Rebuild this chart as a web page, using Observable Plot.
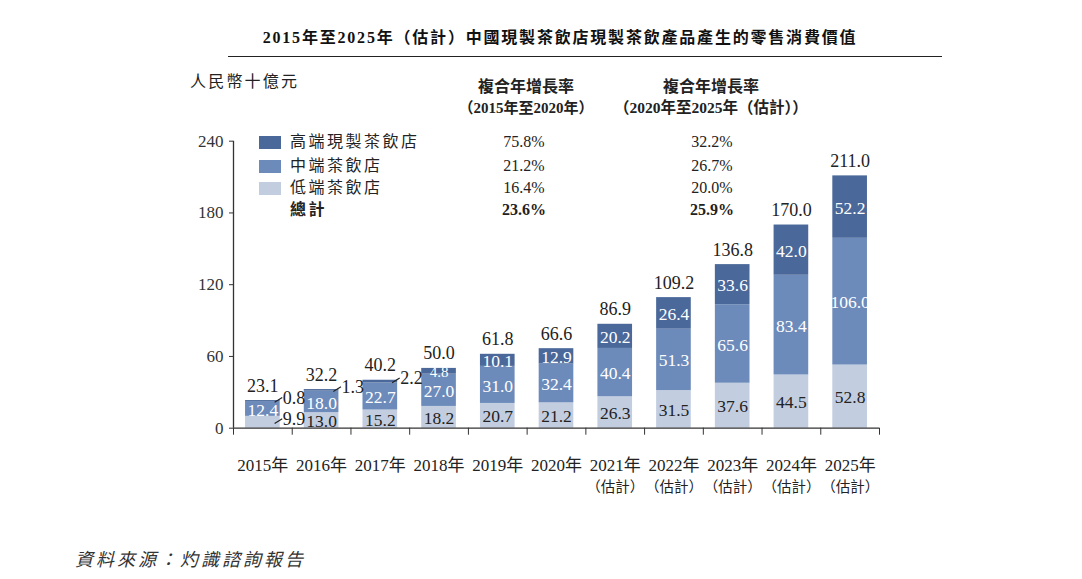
<!DOCTYPE html>
<html>
<head>
<meta charset="utf-8">
<script src="https://cdn.jsdelivr.net/npm/d3@7"></script>
<script src="https://cdn.jsdelivr.net/npm/@observablehq/plot@0.6"></script>
<style>
  html, body { margin: 0; padding: 0; background: #fff; overflow: hidden; }
  #page { position: relative; width: 1082px; height: 579px; }
  #chart { position: absolute; left: 0; top: 0; }
  .ov { position: absolute; white-space: nowrap; font-family: "Liberation Serif", "Noto Sans CJK TC", serif; color: #222; line-height: 20px; }
</style>
</head>
<body>
<div id="page"><div id="chart"></div></div>
<script>
// ---------- data ----------
const years = ["2015年","2016年","2017年","2018年","2019年","2020年","2021年","2022年","2023年","2024年","2025年"];
const estimated = [false,false,false,false,false,false,true,true,true,true,true];
const seriesNames = ["高端現製茶飲店","中端茶飲店","低端茶飲店"];
const highEnd = [0.8, 1.3, 2.2, 4.8, 10.1, 12.9, 20.2, 26.4, 33.6, 42.0, 52.2];
const midEnd  = [12.4, 18.0, 22.7, 27.0, 31.0, 32.4, 40.4, 51.3, 65.6, 83.4, 106.0];
const lowEnd  = [9.9, 13.0, 15.2, 18.2, 20.7, 21.2, 26.3, 31.5, 37.6, 44.5, 52.8];
const totals  = [23.1, 32.2, 40.2, 50.0, 61.8, 66.6, 86.9, 109.2, 136.8, 170.0, 211.0];
const yTicks = [0, 60, 120, 180, 240];
const cagrLabels = ["高端現製茶飲店","中端茶飲店","低端茶飲店","總計"];
const cagr2015to2020 = ["75.8%","21.2%","16.4%","23.6%"];
const cagr2020to2025 = ["32.2%","26.7%","20.0%","25.9%"];
const outsideLabels = ["2015年|高端現製茶飲店","2015年|低端茶飲店","2016年|高端現製茶飲店","2017年|高端現製茶飲店"];

const colors = ["#4a6899", "#6d8bba", "#c2cde0"];
const FONT = '"Liberation Serif", "Noto Sans CJK TC", serif';

// ---------- table ----------
const segs = [];
years.forEach((yr, i) => {
  const vals = [lowEnd[i], midEnd[i], highEnd[i]];
  const names = [seriesNames[2], seriesNames[1], seriesNames[0]];
  let base = 0;
  vals.forEach((v, k) => {
    segs.push({i, year: yr, series: names[k], value: v, y1: base, y2: base + v, mid: base + v / 2,
               outside: outsideLabels.includes(yr + "|" + names[k])});
    base += v;
  });
});
const tops = years.map((yr, i) => ({i, year: yr, total: totals[i], top: lowEnd[i] + midEnd[i] + highEnd[i]}));
const yearRows = years.map((yr, i) => ({i, year: yr, est: estimated[i]}));
const bounds = d3.range(-0.5, years.length, 1);

const inside = segs.filter(d => !d.outside && d.value >= 8);
const insideThin = segs.filter(d => !d.outside && d.value < 8);
const outside = segs.filter(d => d.outside);

const chart = Plot.plot({
  width: 1082,
  height: 579,
  marginTop: 140.7,
  marginBottom: 151.3,
  marginLeft: 233,
  marginRight: 203,
  style: {fontFamily: FONT, fontSize: "17px", color: "#333", background: "transparent"},
  x: {domain: [-0.5, years.length - 0.5], ticks: bounds, tickFormat: () => "", tickSize: 7, label: null},
  y: {domain: [0, 240], ticks: yTicks, tickSize: 4, tickPadding: 6, label: null},
  color: {domain: seriesNames, range: colors},
  marks: [
    Plot.rect(segs, {x1: d => d.i - 0.295, x2: d => d.i + 0.295, y1: "y1", y2: "y2", fill: "series"}),
    Plot.ruleX([-0.5], {y1: 0, y2: 240, stroke: "#333", strokeWidth: 1.3}),
    Plot.ruleY([0], {x1: -0.5, x2: years.length - 0.5, stroke: "#333", strokeWidth: 1.3}),
    Plot.text(tops, {x: "i", y: "top", text: d => d.total.toFixed(1), lineAnchor: "bottom", dy: -9, fontSize: 18, fill: "#222"}),
    Plot.text(inside, {x: "i", y: "mid", text: d => d.value.toFixed(1), fontSize: 17.5, dy: 1,
      fill: d => d.series === seriesNames[2] ? "#222" : "#fff"}),
    Plot.text(insideThin, {x: "i", y: "mid", text: d => d.value.toFixed(1), fontSize: 15, dy: 1, fill: "#fff"}),
    Plot.link(outside, {x1: d => d.i + 0.2, x2: d => d.i + 0.33, y1: d => d.mid - 1, y2: d => d.mid + 3, stroke: "#222", strokeWidth: 1.2}),
    Plot.text(outside, {x: "i", y: "mid", dx: 20, dy: -3, textAnchor: "start", text: d => d.value.toFixed(1), fontSize: 18, fill: "#222"}),
    Plot.text(yearRows, {x: "i", y: 0, dy: 37, text: "year", fontSize: 17, fill: "#222"}),
    Plot.text(yearRows.filter(d => d.est), {x: "i", y: 0, dy: 59, text: () => "（估計）", fontSize: 14.5, fill: "#222"})
  ]
});
document.getElementById("chart").appendChild(chart);

// ---------- overlays ----------
const page = document.getElementById("page");
function place(text, x, yc, opts = {}) {
  const el = document.createElement("div");
  el.className = "ov";
  el.textContent = text;
  const fs = opts.fontSize || 16;
  el.style.fontSize = fs + "px";
  el.style.lineHeight = (fs + 4) + "px";
  el.style.top = (yc - (fs + 4) / 2) + "px";
  el.style.left = x + "px";
  if (opts.center) el.style.transform = "translateX(-50%)";
  if (opts.bold) el.style.fontWeight = "bold";
  if (opts.italic) el.style.fontStyle = "italic";
  if (opts.spacing) el.style.letterSpacing = opts.spacing + "px";
  if (opts.color) el.style.color = opts.color;
  page.appendChild(el);
  return el;
}
place("2015年至2025年（估計）中國現製茶飲店現製茶飲產品產生的零售消費價值", 560, 38, {center: true, bold: true, fontSize: 16, spacing: 1.8, color: "#111"});
const rule = document.createElement("div");
Object.assign(rule.style, {position: "absolute", left: "228px", top: "56px", width: "714px", height: "0", borderTop: "1.6px solid #222"});
page.appendChild(rule);
place("人民幣十億元", 190, 82, {fontSize: 16, spacing: 2.2});
place("複合年增長率", 526, 87, {center: true, bold: true, fontSize: 16});
place("（2015年至2020年）", 526, 108, {center: true, bold: true, fontSize: 15});
place("複合年增長率", 711, 87, {center: true, bold: true, fontSize: 16});
place("（2020年至2025年（估計））", 711, 108, {center: true, bold: true, fontSize: 15.5});
const rowY = [142, 166, 188, 210];
cagrLabels.forEach((lab, k) => {
  const bold = k === 3;
  if (k < 3) {
    const sw = document.createElement("div");
    Object.assign(sw.style, {position: "absolute", left: "259px", top: (rowY[k] - 6.5) + "px", width: "22px", height: "13px", background: colors[k]});
    page.appendChild(sw);
  }
  place(lab, 290, rowY[k], {fontSize: 16, spacing: 2.5, bold});
  place(cagr2015to2020[k], 524, rowY[k], {center: true, fontSize: 16, bold});
  place(cagr2020to2025[k], 712, rowY[k], {center: true, fontSize: 16, bold});
});
place("資料來源：灼識諮詢報告", 75, 560, {fontSize: 18, italic: true, spacing: 3, color: "#333"});
</script>
</body>
</html>
